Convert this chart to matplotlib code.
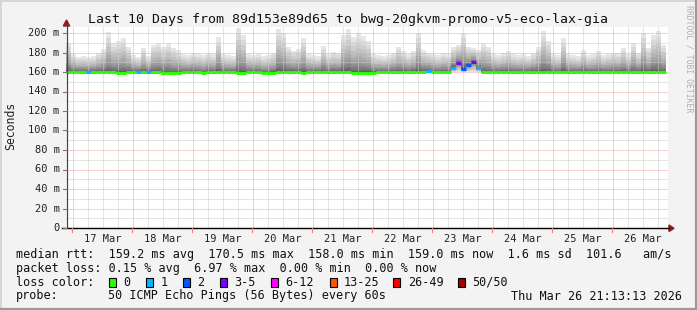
import numpy as np
import matplotlib
matplotlib.use("Agg")
import matplotlib.pyplot as plt
import matplotlib.dates as mdates
from matplotlib.lines import Line2D
from matplotlib.patches import Polygon, Rectangle
from datetime import datetime, timedelta

# 2 hour bins over the last 10 days (120 bins)
start = datetime(2026, 3, 16, 21, 13, 13)
bin_hours = 2

# max ping (top of smoke), ms
top_ms = [190, 178, 175, 176, 175, 176, 180, 184, 201, 190,
          192, 195, 186, 177, 175, 185, 176, 188, 190, 186,
          190, 185, 183, 178, 177, 179, 178, 177, 180, 178,
          196, 178, 177, 176, 205, 198, 178, 177, 178, 176,
          177, 180, 204, 200, 186, 182, 184, 195, 178, 177,
          176, 187, 178, 181, 180, 198, 204, 196, 200, 197,
          192, 178, 177, 176, 177, 180, 186, 182, 178, 182,
          200, 183, 180, 178, 177, 179, 178, 186, 188, 200,
          186, 185, 183, 190, 186, 178, 177, 179, 182, 178,
          177, 178, 176, 180, 186, 202, 192, 178, 177, 195,
          178, 177, 176, 183, 177, 178, 182, 177, 178, 180,
          179, 185, 178, 190, 180, 200, 185, 198, 202, 188]

# median rtt, ms
med_ms = [160, 160, 160, 160, 160, 160, 160, 160, 160, 160,
          159, 159, 160, 160, 160, 160, 160, 160, 160, 159,
          159, 159, 159, 160, 160, 160, 160, 159, 160, 160,
          160, 160, 160, 160, 159, 159, 160, 160, 160, 159,
          159, 159, 160, 160, 160, 160, 160, 159, 160, 160,
          160, 160, 160, 160, 160, 160, 160, 159, 159, 159,
          159, 159, 160, 160, 160, 160, 160, 160, 160, 160,
          160, 160, 161, 160, 160, 160, 160, 164, 169, 163,
          167, 170, 164, 160, 160, 160, 160, 160, 160, 160,
          160, 160, 160, 160, 160, 160, 160, 160, 160, 160,
          160, 160, 160, 160, 160, 160, 160, 160, 160, 160,
          160, 160, 160, 160, 160, 160, 160, 160, 160, 160]

# min ping (bottom of smoke), ms
low_ms = [158.5, 158.5, 158.5, 158.5, 158.5, 158.5, 158.5, 158.5, 158.5, 158.5,
          158, 158, 158.5, 158.5, 158.5, 158.5, 158.5, 158.5, 158.5, 158,
          158, 158, 158, 158.5, 158.5, 158.5, 158.5, 158, 158.5, 158.5,
          158.5, 158.5, 158.5, 158.5, 158, 158, 158.5, 158.5, 158.5, 158,
          158, 158, 158.5, 158.5, 158.5, 158.5, 158.5, 158, 158.5, 158.5,
          158.5, 158.5, 158.5, 158.5, 158.5, 158.5, 158.5, 158, 158, 158,
          158, 158, 158.5, 158.5, 158.5, 158.5, 158.5, 158.5, 158.5, 158.5,
          158.5, 158.5, 159, 158.5, 158.5, 158.5, 158.5, 159.5, 159.5, 159.5,
          159.5, 159.5, 159.5, 158.5, 158.5, 158.5, 158.5, 158.5, 158.5, 158.5,
          158.5, 158.5, 158.5, 158.5, 158.5, 158.5, 158.5, 158.5, 158.5, 158.5,
          158.5, 158.5, 158.5, 158.5, 158.5, 158.5, 158.5, 158.5, 158.5, 158.5,
          158.5, 158.5, 158.5, 158.5, 158.5, 158.5, 158.5, 158.5, 158.5, 158.5]

# lost pings out of 50
loss_n = [0, 0, 0, 0, 1, 0, 0, 0, 0, 0,
          0, 0, 0, 0, 1, 0, 1, 0, 0, 0,
          0, 0, 0, 0, 0, 0, 0, 0, 0, 0,
          0, 0, 0, 0, 0, 0, 0, 0, 0, 0,
          0, 0, 0, 0, 0, 0, 0, 0, 0, 0,
          0, 0, 0, 0, 0, 0, 0, 0, 0, 0,
          0, 0, 0, 0, 0, 0, 0, 0, 0, 0,
          0, 0, 1, 0, 0, 0, 0, 1, 3, 2,
          2, 3, 1, 0, 0, 0, 0, 0, 0, 0,
          0, 0, 0, 0, 0, 0, 0, 0, 0, 0,
          0, 0, 0, 0, 0, 0, 0, 0, 0, 0,
          0, 0, 0, 0, 0, 0, 0, 0, 0, 0]

loss_labels = ["0", "1", "2", "3-5", "6-12", "13-25", "26-49", "50/50"]
loss_colors = ["#26ff00", "#00b8ff", "#0059ff", "#7e00ff",
               "#ff00ff", "#ff5500", "#ff0000", "#a10000"]
loss_limits = [0, 1, 2, 5, 12, 25, 49, 50]

ytick_vals = [0, 20, 40, 60, 80, 100, 120, 140, 160, 180, 200]
day_labels = ["17 Mar", "18 Mar", "19 Mar", "20 Mar", "21 Mar",
              "22 Mar", "23 Mar", "24 Mar", "25 Mar", "26 Mar"]

stats_line = "median rtt:  159.2 ms avg  170.5 ms max  158.0 ms min  159.0 ms now  1.6 ms sd  101.6   am/s"
loss_line = "packet loss: 0.15 % avg  6.97 % max  0.00 % min  0.00 % now"
probe_text = "50 ICMP Echo Pings (56 Bytes) every 60s"
stamp_text = "Thu Mar 26 21:13:13 2026"
title = "Last 10 Days from 89d153e89d65 to bwg-20gkvm-promo-v5-eco-lax-gia"

W, H = 697, 310
MONO = "DejaVu Sans Mono"


def fx(x):
    return x / W


def fy(y):
    return 1 - y / H


def loss_color(n):
    for lim, c in zip(loss_limits, loss_colors):
        if n <= lim:
            return c
    return loss_colors[-1]


fig = plt.figure(figsize=(W / 100, H / 100), dpi=100, facecolor="#f3f3f3")

ax_left, ax_right, ax_top, ax_bot = 66.0, 668.0, 27.0, 228.0
ax = fig.add_axes([fx(ax_left), fy(ax_bot), fx(ax_right - ax_left), (ax_bot - ax_top) / H])
ax.set_facecolor("white")
for s in ax.spines.values():
    s.set_visible(False)
ax.set_xticks([])
ax.set_yticks([])

t0 = mdates.date2num(start)
n = len(top_ms)
edges = np.array([mdates.date2num(start + timedelta(hours=bin_hours * i)) for i in range(n + 1)])
ax.set_xlim(t0, t0 + (ax_right - ax_left) / 60.0)
ax.set_ylim(0, 200 + (33 - ax_top) / 0.975)

top = np.array(top_ms + [top_ms[-1]], dtype=float)
med = np.array(med_ms + [med_ms[-1]], dtype=float)
low = np.array(low_ms + [low_ms[-1]], dtype=float)

# smoke: layered bands, light outside, dark near the median
N = 14
for k in range(N):
    f = ((N - k) / N) ** 2.0
    g = 0.90 - 0.62 * k / (N - 1)
    col = (g, g, g)
    ax.fill_between(edges, med, med + (top - med) * f, step="post", color=col, lw=0, zorder=2)
    ax.fill_between(edges, med - (med - low) * f, med, step="post", color=col, lw=0, zorder=2)

# grid
day0 = datetime(2026, 3, 17)
for d in range(10):
    ax.axvline(mdates.date2num(day0 + timedelta(days=d)), color="#f2a0a0", lw=0.72,
               ls=(0, (1, 1)), zorder=3)
    for q in (6, 12, 18):
        ax.axvline(mdates.date2num(day0 + timedelta(days=d, hours=q)), color="#cccccc",
                   lw=0.72, ls=(0, (1, 1)), zorder=3)
for q in (6, 12, 18):
    tq = mdates.date2num(day0 + timedelta(days=-1, hours=q))
    if tq > t0:
        ax.axvline(tq, color="#cccccc", lw=0.72, ls=(0, (1, 1)), zorder=3)
for v in range(10, 210, 10):
    if v % 20 == 0:
        ax.axhline(v, color="#f2a0a0", lw=0.72, ls=(0, (1, 1)), zorder=3)
    else:
        ax.axhline(v, color="#cccccc", lw=0.72, ls=(0, (1, 1)), zorder=3)

# median line coloured by loss
cols = [loss_color(v) for v in loss_n]
ax.hlines(med_ms, edges[:-1], edges[1:], colors=cols, lw=2.2, zorder=4)

# axes lines and arrows (pixel coords)
fig.add_artist(Line2D([fx(66.5), fx(66.5)], [fy(228), fy(24)], color="#444444", lw=0.9))
fig.add_artist(Line2D([fx(62), fx(669)], [fy(228.3), fy(228.3)], color="black", lw=1.0))
fig.add_artist(Polygon([(fx(63.3), fy(26)), (fx(69.7), fy(26)), (fx(66.5), fy(20))],
                       closed=True, color="#8e1c1c", transform=fig.transFigure))
fig.add_artist(Polygon([(fx(669), fy(225)), (fx(669), fy(231.5)), (fx(674), fy(228.3))],
                       closed=True, color="#8e1c1c", transform=fig.transFigure))

# y tick labels and ticks
for v in ytick_vals:
    ypx = ax_bot - v * 0.975
    fig.add_artist(Line2D([fx(62.5), fx(66.5)], [fy(ypx), fy(ypx)], color="#777777", lw=0.8))
    lab = "0" if v == 0 else f"{v} m"
    fig.text(fx(59.5), fy(ypx), lab, ha="right", va="center", fontsize=7.5,
             family=MONO, color="#222222")

# x labels at noon, ticks at day boundaries
for d, lab in enumerate(day_labels):
    xpx = 72.3 + 60 * d
    fig.add_artist(Line2D([fx(xpx), fx(xpx)], [fy(228), fy(231.5)], color="#f08080", lw=0.8))
    fig.text(fx(xpx + 30), fy(238.5), lab, ha="center", va="center", fontsize=7.5,
             family=MONO, color="#222222")

fig.text(fx(348.5), fy(19.3), title, ha="center", va="center", fontsize=9.5,
         family=MONO, color="#111111")
fig.text(fx(11), fy(126), "Seconds", rotation=90, ha="center", va="center",
         fontsize=8.3, family=MONO, color="#222222")
fig.text(fx(688.5), fy(59), "RRDTOOL / TOBI OETIKER", rotation=270, ha="center",
         va="center", fontsize=5.9, family=MONO, color="#b0b0b0")

# legend block
fig.text(fx(16), fy(254.5), stats_line, ha="left", va="center", fontsize=8.5,
         family=MONO, color="#111111")
fig.text(fx(16), fy(268.5), loss_line, ha="left", va="center", fontsize=8.5,
         family=MONO, color="#111111")
fig.text(fx(16), fy(282), "loss color:", ha="left", va="center", fontsize=8.5,
         family=MONO, color="#111111")
box_x = [108.7, 145.7, 182.7, 219.7, 270.5, 329.5, 393.3, 458.0]
for bx, lab, c in zip(box_x, loss_labels, loss_colors):
    fig.add_artist(Rectangle((fx(bx), fy(286.5)), 7 / W, 9 / H, facecolor=c,
                             edgecolor="black", lw=0.8, transform=fig.transFigure))
    fig.text(fx(bx + 14.6), fy(282), lab, ha="left", va="center", fontsize=8.5,
             family=MONO, color="#111111")
fig.text(fx(16), fy(296), "probe:", ha="left", va="center", fontsize=8.5,
         family=MONO, color="#111111")
fig.text(fx(107.5), fy(296), probe_text, ha="left", va="center", fontsize=8.5,
         family=MONO, color="#111111")
fig.text(fx(682), fy(296), stamp_text, ha="right", va="center", fontsize=8.5,
         family=MONO, color="#111111")

# frame around the image
fig.add_artist(Line2D([0, 1], [fy(0.5), fy(0.5)], color="#d6d6d6", lw=1.4))
fig.add_artist(Line2D([fx(0.5), fx(0.5)], [0, 1], color="#d6d6d6", lw=1.4))
fig.add_artist(Line2D([0, 1], [fy(309), fy(309)], color="#9a9a9a", lw=1.6))
fig.add_artist(Line2D([fx(696), fx(696)], [0, 1], color="#9a9a9a", lw=1.6))

fig.savefig("out.png", dpi=100, facecolor=fig.get_facecolor())
